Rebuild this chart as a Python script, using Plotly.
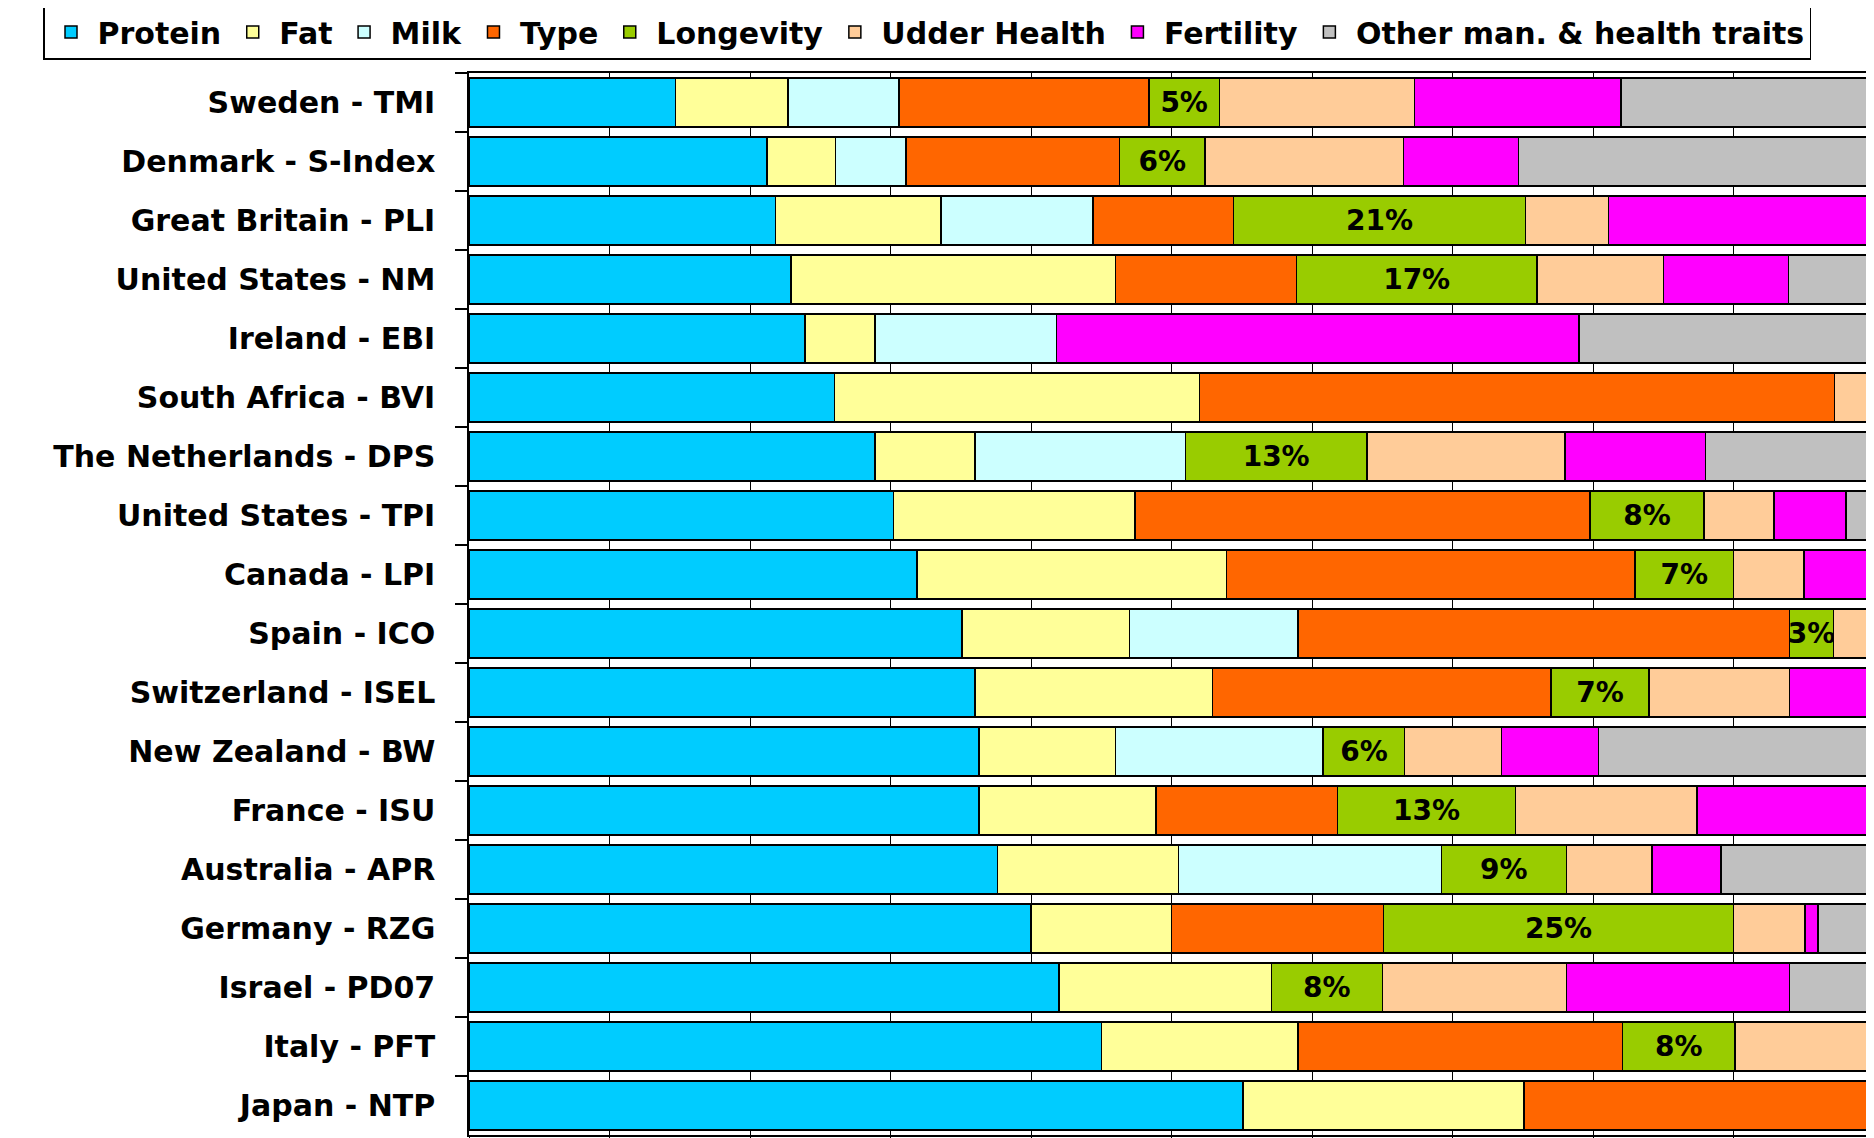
import plotly.graph_objects as go

# Relative emphasis (%) of trait groups in national total merit indexes
indexes = ["Sweden - TMI", "Denmark - S-Index", "Great Britain - PLI", "United States - NM",
           "Ireland - EBI", "South Africa - BVI", "The Netherlands - DPS", "United States - TPI",
           "Canada - LPI", "Spain - ICO", "Switzerland - ISEL", "New Zealand - BW",
           "France - ISU", "Australia - APR", "Germany - RZG", "Israel - PD07",
           "Italy - PFT", "Japan - NTP"]

protein = [14.7, 21.2, 21.8, 22.9, 23.9, 26.0, 28.9, 30.2, 31.9, 35.1, 36.0, 36.3, 36.3, 37.6, 40.0, 42.0, 45.0, 55.1]
fat = [8.0, 4.9, 11.8, 23.1, 5.0, 26.0, 7.1, 17.2, 22.0, 11.9, 16.9, 9.7, 12.6, 12.9, 10.0, 15.1, 14.0, 20.0]
milk = [7.9, 5.0, 10.8, 0, 12.9, 0, 15.0, 0, 0, 12.0, 0, 14.8, 0, 18.7, 0, 0, 0, 0]
type_ = [17.8, 15.2, 10.0, 12.9, 0, 45.2, 0, 32.4, 29.1, 35.0, 24.1, 0, 12.9, 0, 15.1, 0, 23.1, 24.9]
longevity = [5.0, 6.1, 20.8, 17.1, 0, 0, 12.9, 8.1, 7.0, 3.1, 7.0, 5.8, 12.7, 8.9, 24.9, 7.9, 8.0, 0]
udder = [13.9, 14.1, 5.9, 9.0, 0, 2.9, 14.1, 5.0, 5.0, 2.9, 10.0, 6.9, 12.9, 6.1, 5.1, 13.1, 10.0, 0]
fertility = [14.7, 8.2, 18.9, 8.9, 37.2, 0, 10.0, 5.1, 5.0, 0, 6.0, 6.9, 12.7, 4.9, 0.9, 15.9, 0, 0]
other = [18.0, 25.2, 0, 6.0, 20.9, 0, 12.0, 2.0, 0, 0, 0, 19.6, 0, 10.8, 3.9, 6.0, 0, 0]

series = [
    ("Protein", protein, "#00CCFF"),
    ("Fat", fat, "#FFFF99"),
    ("Milk", milk, "#CCFFFF"),
    ("Type", type_, "#FF6600"),
    ("Longevity", longevity, "#99CC00"),
    ("Udder Health", udder, "#FFCC99"),
    ("Fertility", fertility, "#FF00FF"),
    ("Other man. & health traits", other, "#C0C0C0"),
]

FONT = "DejaVu Sans"

fig = go.Figure()
for name, vals, col in series:
    # only longevity gets its share printed on the bar
    if name == "Longevity":
        txt = [f"{v:.0f}%" if v > 0 else "" for v in vals]
    else:
        txt = None
    fig.add_trace(go.Bar(
        name=name, y=indexes, x=vals, orientation="h",
        marker=dict(color=col, line=dict(color="black", width=1.5)),
        text=txt, textposition="inside" if txt else "none",
        insidetextanchor="middle", textangle=0,
        textfont=dict(family=FONT, size=28, color="black", weight="bold"),
    ))

# page body has an 8px margin, so the figure is a bit smaller than the window
fig.update_layout(
    barmode="stack",
    bargap=0.17,
    width=1866, height=1130,
    margin=dict(l=461, r=0, t=65, b=3, autoexpand=False),
    paper_bgcolor="white", plot_bgcolor="white",
    font=dict(family=FONT, color="black"),
    uniformtext=dict(minsize=28, mode="show"),
    legend=dict(
        orientation="h", traceorder="normal",
        x=-0.3032, xanchor="left", y=1.0645, yanchor="top",
        bordercolor="black", borderwidth=1.5, bgcolor="white",
        font=dict(family=FONT, size=30, color="black", weight="bold"),
        itemwidth=43, tracegroupgap=0,
    ),
)

fig.update_xaxes(
    range=[0, 100], dtick=10, showgrid=True, gridcolor="black", gridwidth=1,
    showticklabels=False, ticks="outside", ticklen=8, tickcolor="black",
    showline=True, linecolor="black", linewidth=1.5, mirror=True, zeroline=False,
)
fig.update_yaxes(
    autorange="reversed", tickson="boundaries", ticks="outside", ticklen=12,
    tickcolor="black", tickwidth=2, showline=True, linecolor="black", linewidth=1.5,
    showgrid=False, ticklabelstandoff=26,
    tickfont=dict(family=FONT, size=30, color="black", weight="bold"),
)

fig.write_html("out.html")
